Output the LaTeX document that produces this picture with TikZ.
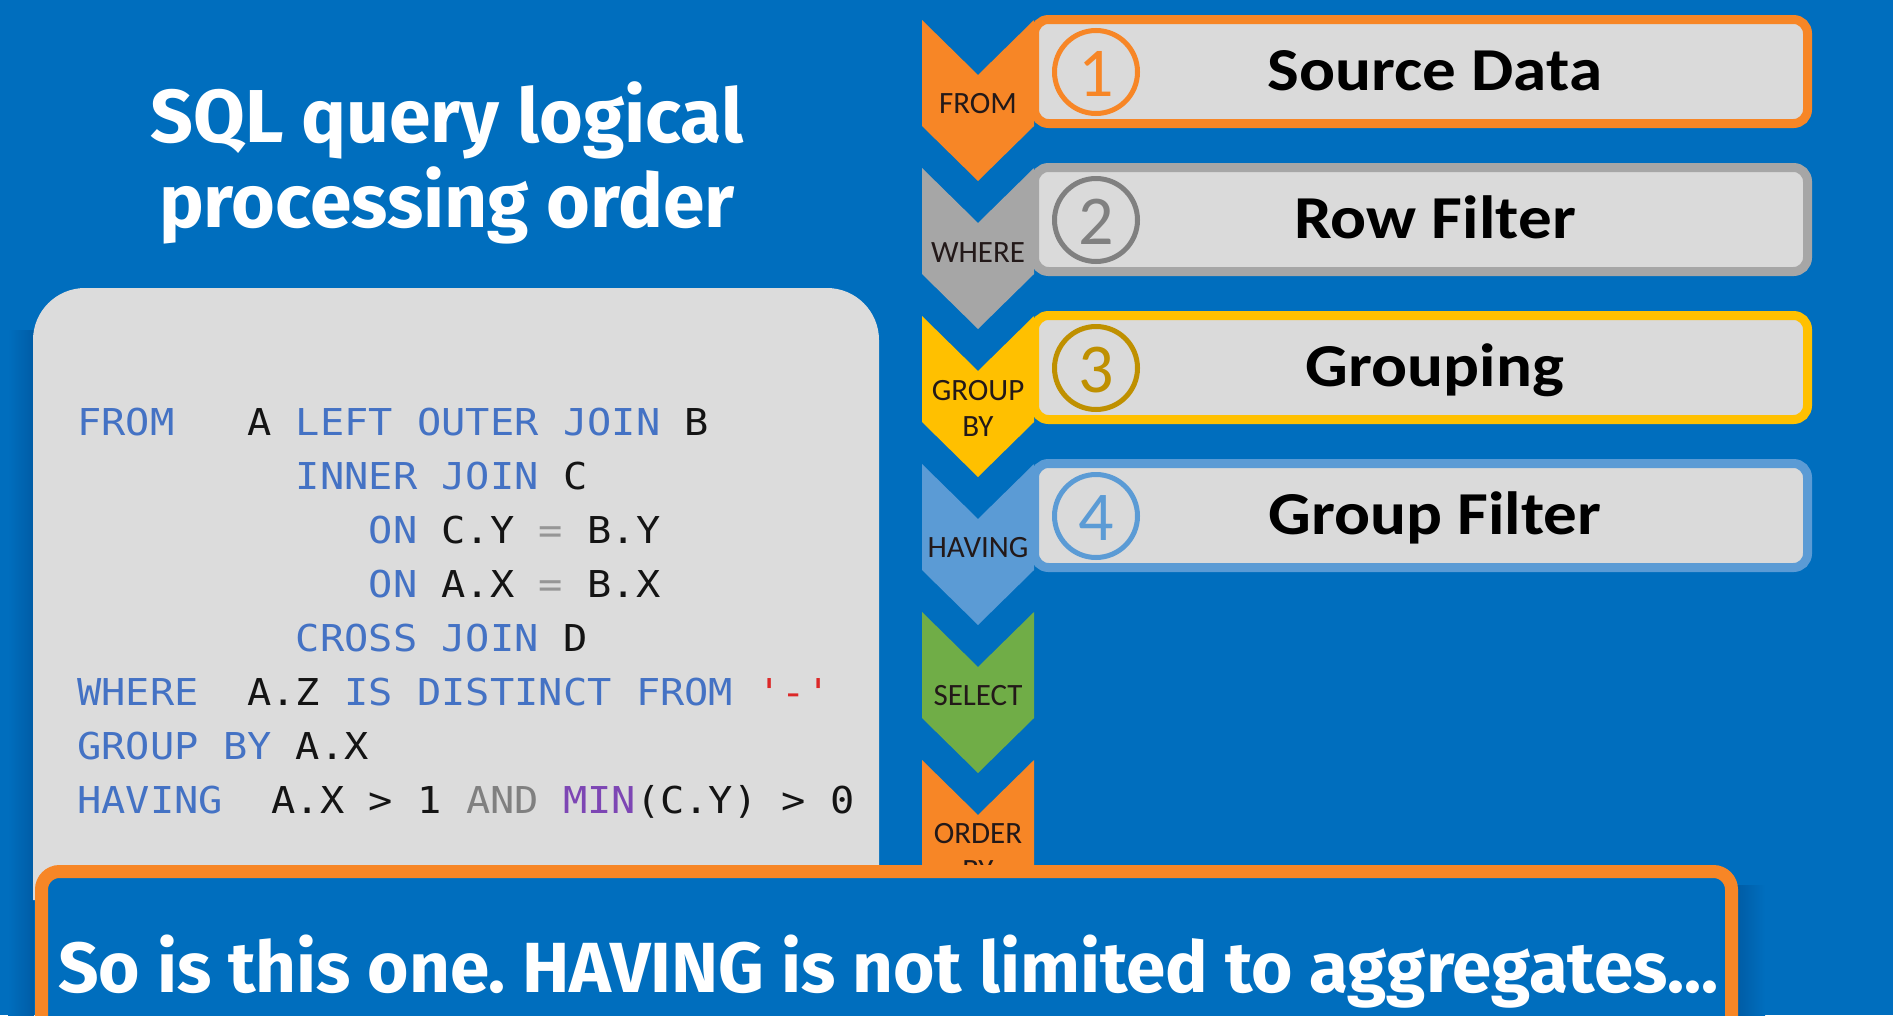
\documentclass[tikz,border=0pt]{standalone}
\usepackage{fontspec}
\setmainfont{Carlito}
\newfontfamily\headfont{Fira Sans}
\newfontfamily\labelfont{Carlito}
\newfontfamily\stepfont{Carlito}[FakeStretch=1.1]
\newfontfamily\codefont{DejaVu Sans Mono}[FakeStretch=1.09]
\frenchspacing

\definecolor{bgblue}{RGB}{0,110,190}
\definecolor{panelgray}{RGB}{220,220,220}
\definecolor{boxfill}{RGB}{218,218,218}
\definecolor{cOrange}{RGB}{247,134,38}
\definecolor{cGray}{RGB}{166,166,166}
\definecolor{cGrayDark}{RGB}{128,128,128}
\definecolor{cYellow}{RGB}{255,192,0}
\definecolor{cGold}{RGB}{191,144,0}
\definecolor{cBlue}{RGB}{91,155,213}
\definecolor{cGreen}{RGB}{112,173,71}
\definecolor{labelink}{RGB}{35,25,25}
\definecolor{kw}{RGB}{68,114,196}
\definecolor{ident}{RGB}{20,20,20}
\definecolor{op}{RGB}{150,150,150}
\definecolor{andgray}{RGB}{128,128,128}
\definecolor{fn}{RGB}{125,70,180}
\definecolor{str}{RGB}{220,40,40}
\definecolor{deepblue}{RGB}{0,92,165}

\tikzset{
  titletxt/.style={font=\headfont\bfseries\fontsize{75}{75}\selectfont, text=white, anchor=base, inner sep=0pt},
  notetxt/.style={font=\headfont\bfseries\fontsize{71}{71}\selectfont, text=white, anchor=base west, inner sep=0pt},
  chevlabel/.style={font=\labelfont\fontsize{31}{31}\selectfont, text=labelink, anchor=base, inner sep=0pt},
  steptext/.style={font=\stepfont\bfseries\fontsize{61}{61}\selectfont, text=black, anchor=base, inner sep=0pt},
  stepnum/.style={font=\labelfont\fontsize{70}{70}\selectfont, anchor=base, inner sep=0pt},
  codetxt/.style={font=\codefont\fontsize{37}{37}\selectfont, anchor=base west, inner sep=0pt},
}

% one code token: name, column, row, colour, text
\newcommand{\codetok}[5]{%
  \node[codetxt, text=#4] (#1) at ({77+#2*24.3}, {435+#3*54.1}) {#5};}

% downward chevron: top y, colour
\newcommand{\chevron}[2]{%
  \fill[#2] (922,#1) -- (978,#1+55) -- (1034,#1) -- (1034,#1+106)
    -- (978,#1+161) -- (922,#1+106) -- cycle;}

% step bar: top y, name, border colour, number colour, number, caption
\newcommand{\stepbar}[6]{%
  \draw[line width=9pt, rounded corners=14pt, draw=#3, fill=boxfill]
    (1034.5,#1-0.5) rectangle (1807.5,#1+103.5);
  \draw[line width=5pt, draw=#4] (1096,#1+52) circle[radius=41.5pt];
  \node[stepnum, text=#4] (#2num) at (1096,#1+76) {#5};
  \node[steptext] (#2txt) at (1435,#1+70) {#6};}

\begin{document}
\begin{tikzpicture}[x=1pt,y=-1pt]
  \fill[bgblue] (0,0) rectangle (1893,1015);
  \useasboundingbox (0,0) rectangle (1893,1015);

  % heading
  \node[titletxt] (title1) at (447,142) {SQL query logical};
  \node[titletxt] (title2) at (447,227) {processing order};

  % code panel (rounded on top, running on under the caption bar)
  \shade[left color=bgblue, right color=deepblue] (8,330) rectangle (34,1015);
  \fill[panelgray] (33,900) [rounded corners=52pt] -- (33,288) -- (879,288)
    [sharp corners] -- (879,900) -- cycle;

  \codetok{r0a}{0}{0}{kw}{FROM}
  \codetok{r0b}{7}{0}{ident}{A}
  \codetok{r0c}{9}{0}{kw}{LEFT}
  \codetok{r0d}{14}{0}{kw}{OUTER}
  \codetok{r0e}{20}{0}{kw}{JOIN}
  \codetok{r0f}{25}{0}{ident}{B}

  \codetok{r1a}{9}{1}{kw}{INNER}
  \codetok{r1b}{15}{1}{kw}{JOIN}
  \codetok{r1c}{20}{1}{ident}{C}

  \codetok{r2a}{12}{2}{kw}{ON}
  \codetok{r2b}{15}{2}{ident}{C.Y}
  \codetok{r2c}{19}{2}{op}{=}
  \codetok{r2d}{21}{2}{ident}{B.Y}

  \codetok{r3a}{12}{3}{kw}{ON}
  \codetok{r3b}{15}{3}{ident}{A.X}
  \codetok{r3c}{19}{3}{op}{=}
  \codetok{r3d}{21}{3}{ident}{B.X}

  \codetok{r4a}{9}{4}{kw}{CROSS}
  \codetok{r4b}{15}{4}{kw}{JOIN}
  \codetok{r4c}{20}{4}{ident}{D}

  \codetok{r5a}{0}{5}{kw}{WHERE}
  \codetok{r5b}{7}{5}{ident}{A.Z}
  \codetok{r5c}{11}{5}{kw}{IS}
  \codetok{r5d}{14}{5}{kw}{DISTINCT}
  \codetok{r5e}{23}{5}{kw}{FROM}
  \codetok{r5f}{28}{5}{str}{'-'}

  \codetok{r6a}{0}{6}{kw}{GROUP}
  \codetok{r6b}{6}{6}{kw}{BY}
  \codetok{r6c}{9}{6}{ident}{A.X}

  \codetok{r7a}{0}{7}{kw}{HAVING}
  \codetok{r7b}{8}{7}{ident}{A.X}
  \codetok{r7c}{12}{7}{ident}{>}
  \codetok{r7d}{14}{7}{ident}{1}
  \codetok{r7e}{16}{7}{andgray}{AND}
  \codetok{r7f}{20}{7}{fn}{MIN}
  \codetok{r7g}{23}{7}{ident}{(C.Y)}
  \codetok{r7h}{29}{7}{ident}{>}
  \codetok{r7i}{31}{7}{ident}{0}

  % processing steps
  \stepbar{20}{s1}{cOrange}{cOrange}{1}{Source Data}
  \stepbar{168}{s2}{cGray}{cGrayDark}{2}{Row Filter}
  \stepbar{316}{s3}{cYellow}{cGold}{3}{Grouping}
  \stepbar{464}{s4}{cBlue}{cBlue}{4}{Group Filter}

  \chevron{20}{cOrange}
  \chevron{168}{cGray}
  \chevron{316}{cYellow}
  \chevron{464}{cBlue}
  \chevron{612}{cGreen}
  \chevron{760}{cOrange}

  \node[chevlabel] (cFrom) at (978,113) {FROM};
  \node[chevlabel] (cWhere) at (978,262) {WHERE};
  \node[chevlabel] (cGroup) at (978,400) {GROUP};
  \node[chevlabel] (cGroupBy) at (978,436) {BY};
  \node[chevlabel] (cHaving) at (978,557) {HAVING};
  \node[chevlabel] (cSelect) at (978,705) {SELECT};
  \node[chevlabel] (cOrder) at (978,843) {ORDER};
  \node[chevlabel] (cOrderBy) at (978,880) {BY};

  % caption bar with its soft shadow
  \shade[left color=deepblue, right color=bgblue] (1737,885) rectangle (1765,1015);
  \draw[line width=13pt, rounded corners=18pt, draw=cOrange, fill=bgblue]
    (41.5,871.5) rectangle (1731.5,1080);
  \node[notetxt] (note) at (58,992) {So is this one. HAVING is not limited to aggregates...};
\end{tikzpicture}
\end{document}
